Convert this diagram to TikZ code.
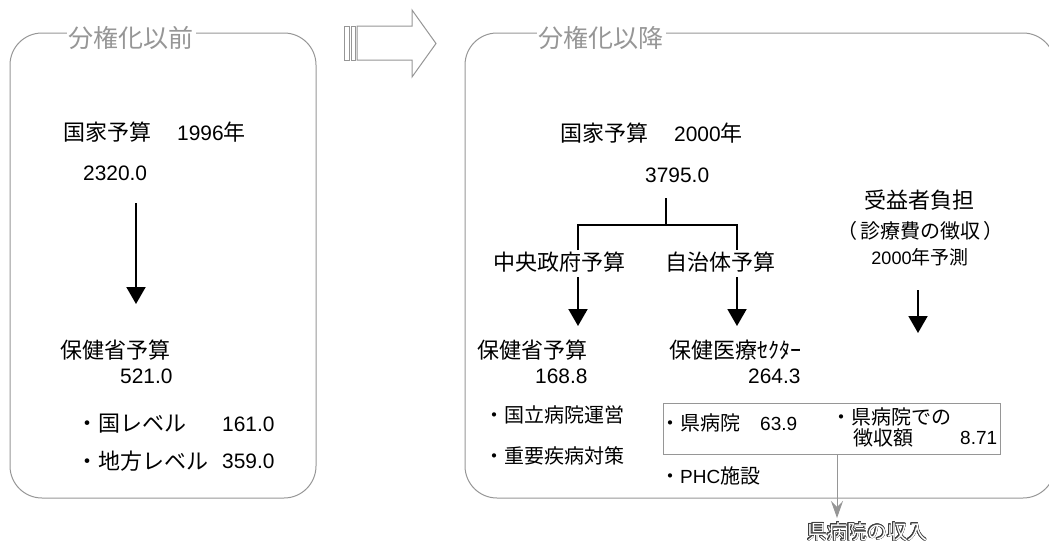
\documentclass[tikz,border=0pt]{standalone}
\usepackage{fontspec}
\setmainfont{Noto Sans CJK JP}
\newfontfamily\ar[Scale=0.95]{Liberation Sans}
\usepackage{contour}
\contourlength{0.7pt}
\usetikzlibrary{arrows.meta}
\newcommand\nm[1]{{\ar #1}}
\definecolor{boxgray}{RGB}{150,150,150}
\definecolor{ttlgray}{RGB}{150,150,150}
\begin{document}
\begin{tikzpicture}[x=1pt,y=-1pt,
  jt/.style={font=\fontsize{22}{24}\selectfont, inner sep=0pt, text=black},
  js/.style={font=\fontsize{20}{22}\selectfont, inner sep=0pt, text=black},
  jss/.style={font=\fontsize{19}{21}\selectfont, inner sep=0pt, text=black},
  ttl/.style={font=\fontsize{25}{27}\selectfont, text=ttlgray, fill=white, inner xsep=2pt, inner ysep=0pt},
  frame/.style={draw=boxgray, line width=1pt, rounded corners=32pt},
  flow/.style={line width=2pt, -{Triangle[width=19pt,length=17pt]}},
  tree/.style={line width=2pt},
  grayarr/.style={draw=boxgray, line width=1pt, -{Stealth[width=12pt,length=17pt,inset=6pt]}, boxgray},
  blockarr/.style={draw=boxgray, line width=1pt, fill=white}
]
\useasboundingbox (0,0) rectangle (1049,546);

% frames
\draw[frame] (10,33) rectangle (316,498);
\draw[frame] (465,33) rectangle (1055,498);
\node[ttl] (ttlL) at (131,38) {分権化以前};
\node[ttl] (ttlR) at (601,38) {分権化以降};

% block arrow
\draw[blockarr] (357,26) -- (412,26) -- (412,10) -- (436,43.5) -- (412,77) -- (412,60) -- (357,60) -- cycle;
\draw[blockarr] (344,26) rectangle (349,60);
\draw[blockarr] (351,26) rectangle (355,60);

% left content
\node[jt, anchor=west] (nb96) at (63,132) {国家予算　\hspace{4pt}\nm{1996}年};
\node[jt, anchor=west] (v2320) at (83,173) {\nm{2320.0}};
\coordinate (a1s) at (136,203);
\coordinate (a1e) at (136,304);
\draw[flow] (a1s) -- (a1e);
\node[jt, anchor=west] (mohL) at (60,350) {保健省予算};
\node[jt, anchor=west] (v521) at (120,376) {\nm{521.0}};
\node[jt, anchor=west] (natL) at (76,424) {・国レベル};
\node[jt, anchor=west] (v161) at (222,424) {\nm{161.0}};
\node[jt, anchor=west] (locL) at (76,461) {・地方レベル};
\node[jt, anchor=west] (v359) at (222,461) {\nm{359.0}};

% right content
\node[jt, anchor=west] (nb00) at (560,133) {国家予算　\hspace{4pt}\nm{2000}年};
\node[jt, anchor=west] (v3795) at (645,175) {\nm{3795.0}};
\coordinate (tTop) at (666,198);
\coordinate (tMid) at (666,225);
\coordinate (tL) at (578,225);
\coordinate (tR) at (737,225);
\coordinate (tLd) at (578,250);
\coordinate (tRd) at (737,250);
\draw[tree] (tTop) -- (tMid);
\draw[tree] (tLd) -- (tL) -- (tR) -- (tRd);
\node[jt, anchor=west] (cgb) at (493,262) {中央政府予算};
\node[jt, anchor=west] (lgb) at (665,262) {自治体予算};
\coordinate (a2s) at (578,277);
\coordinate (a2e) at (578,326);
\coordinate (a3s) at (737,277);
\coordinate (a3e) at (737,326);
\draw[flow] (a2s) -- (a2e);
\draw[flow] (a3s) -- (a3e);

\node[jt] (ben1) at (919,200) {受益者負担};
\node[js] (ben2) at (920,231) {（\hspace{3pt}診療費の徴収\hspace{3pt}）};
\node[jss] (ben3) at (920,257) {\nm{2000}年予測};
\coordinate (a4s) at (918,290);
\coordinate (a4e) at (918,333);
\draw[flow] (a4s) -- (a4e);

\node[jt, anchor=west] (mohR) at (477,350) {保健省予算};
\node[jt, anchor=west] (v168) at (535,376) {\nm{168.8}};
\node[jt, anchor=west] (hs) at (669,350) {保健医療ｾｸﾀｰ};
\node[jt, anchor=west] (v264) at (748,376) {\nm{264.3}};
\node[js, anchor=west] (nh) at (484,415) {・国立病院運営};
\node[js, anchor=west] (dc) at (484,456) {・重要疾病対策};

\draw[draw=boxgray, line width=1pt] (663,403) rectangle (1000,454);
\node[js, anchor=west] (ph) at (660,423) {・県病院　\nm{63.9}};
\node[js, anchor=west] (ph2) at (831,417) {・県病院での};
\node[js, anchor=west] (ph3) at (853,438) {徴収額};
\node[js, anchor=west] (v871) at (960,438) {\nm{8.71}};
\node[js, anchor=west] (phc) at (660,476) {・\nm{PHC}施設};

\coordinate (g1) at (837,454);
\coordinate (g2) at (837,518);
\draw[grayarr] (g1) -- (g2);
\node[font=\fontsize{20}{22}\selectfont, inner sep=0pt, text=white] (inc) at (867,532) {\contour{black!75}{県病院の収入}};
\end{tikzpicture}
\end{document}
